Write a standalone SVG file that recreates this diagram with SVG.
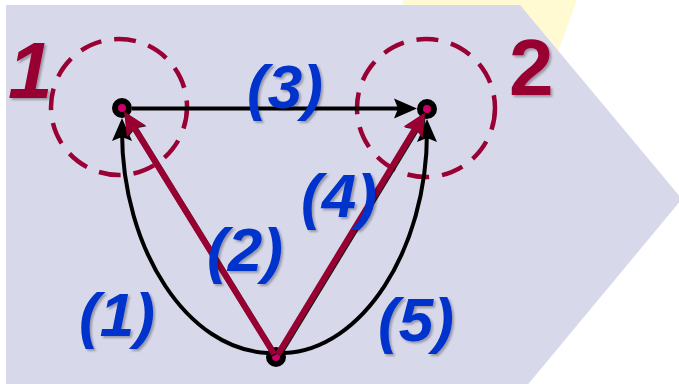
<svg xmlns="http://www.w3.org/2000/svg" width="679" height="384" viewBox="0 0 679 384">
<style>
.lbl{font-family:"Liberation Sans",Arial,sans-serif;font-weight:bold;font-style:italic;font-size:62px;fill:#0033CC;filter:url(#sh)}
.num{font-family:"Liberation Sans",Arial,sans-serif;font-weight:bold;font-size:80px;fill:#990033;filter:url(#sh)}
.ring{fill:#CC0066;stroke:#000;stroke-width:6}
.zone{fill:none;stroke:#990033;stroke-width:4.5;stroke-dasharray:22 13}
.blk{fill:none;stroke:#000;stroke-width:4}
.red{fill:none;stroke:#990033;stroke-width:6;filter:url(#lsh)}
</style>
<defs>
<filter id="sh" x="-20%" y="-20%" width="150%" height="150%"><feDropShadow dx="2" dy="2" stdDeviation="1.2" flood-color="#000" flood-opacity="0.3"/></filter>
<filter id="lsh" x="-10%" y="-10%" width="120%" height="120%"><feDropShadow dx="1" dy="1" stdDeviation="0.4" flood-color="#000" flood-opacity="0.9"/></filter>
<marker id="ab" markerUnits="userSpaceOnUse" markerWidth="40" markerHeight="40" viewBox="-20 -20 40 40" refX="0" refY="0" orient="auto"><path d="M13,0 L-10,-10 L-6,0 L-10,10 Z" fill="#000"/></marker>
<marker id="ar" markerUnits="userSpaceOnUse" markerWidth="40" markerHeight="40" viewBox="-20 -20 40 40" refX="0" refY="0" orient="auto"><path d="M12,0 L-11,-11 L-7,0 L-11,11 Z" fill="#990033"/></marker>
</defs>
<rect width="679" height="384" fill="#fff"/>
<path d="M403,0 L577,0 L555,60 L403,60 Z" fill="#FFFAD2"/>
<polygon points="6,5 520,5 682,199 520,394 6,394" fill="#D8D8EB"/>
<g id="zone1"><circle class="zone" cx="119" cy="107" r="68"/><text class="num" x="8" y="98" font-style="italic">1</text></g>
<g id="zone2"><circle class="zone" cx="426" cy="108" r="69"/><text class="num" x="509" y="95">2</text></g>
<g id="nodeA"><circle class="ring" cx="122" cy="108" r="7"/></g>
<g id="nodeB"><circle class="ring" cx="427" cy="109" r="7"/></g>
<g id="nodeC"><circle class="ring" cx="276" cy="357" r="7"/></g>
<g id="connectors">
<path class="blk" d="M132,108.5 L404,108.5" marker-end="url(#ab)"/>
<path class="blk" d="M268,353 C188,350 122,250 122,131" marker-end="url(#ab)"/>
<path class="blk" d="M284,353 C362,350 427,250 427,132" marker-end="url(#ab)"/>
<path class="red" d="M274,354 L130.4,121.6" marker-end="url(#ar)"/>
<path class="red" d="M278,354 L418.7,122.7" marker-end="url(#ar)"/>
</g>
<g id="labels">
<text class="lbl" x="247" y="108">(3)</text>
<text class="lbl" x="301" y="217">(4)</text>
<text class="lbl" x="207" y="271">(2)</text>
<text class="lbl" x="79" y="336">(1)</text>
<text class="lbl" x="378" y="341">(5)</text>
</g>
</svg>
